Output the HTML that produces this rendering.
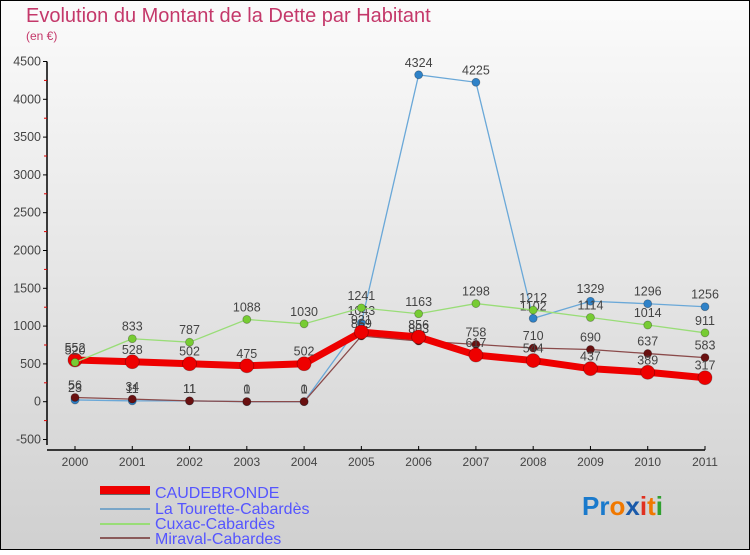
<!DOCTYPE html>
<html><head><meta charset="utf-8"><style>
body{margin:0;width:750px;height:550px;overflow:hidden;font-family:"Liberation Sans",sans-serif}
</style></head><body>
<svg width="750" height="550" xmlns="http://www.w3.org/2000/svg" id="chart">
<defs><linearGradient id="bg" x1="0" y1="0" x2="0" y2="1"><stop offset="0" stop-color="#fbfbfb"/><stop offset="1" stop-color="#d0d0d0"/></linearGradient></defs>
<rect x="0.5" y="0.5" width="749" height="549" fill="url(#bg)" stroke="#000"/>
<text x="26" y="22" font-size="20" fill="#c4386a">Evolution du Montant de la Dette par Habitant</text>
<text x="26" y="40" font-size="12" fill="#c4386a">(en €)</text>
<g id="axes"></g><g id="series"></g>
<g font-size="16" fill="#5555ff">
<rect x="100" y="487" width="50" height="8" fill="#666"/><rect x="100" y="486" width="50" height="8" fill="#e00"/>
<text x="155" y="498">CAUDEBRONDE</text>
<line x1="100" y1="509" x2="150" y2="509" stroke="#7aa6c8" stroke-width="2"/><text x="155" y="514">La Tourette-Cabardès</text>
<line x1="100" y1="524" x2="150" y2="524" stroke="#99dd77" stroke-width="2"/><text x="155" y="529">Cuxac-Cabardès</text>
<line x1="100" y1="538" x2="150" y2="538" stroke="#8a5a5a" stroke-width="2"/><text x="155" y="544">Miraval-Cabardes</text>
</g>
<text x="582" y="515" font-size="26" font-weight="bold"><tspan fill="#1a7acc">Pr</tspan><tspan fill="#f07800">o</tspan><tspan fill="#1a5aaa">x</tspan><tspan fill="#e03020">i</tspan><tspan fill="#f07800">t</tspan><tspan fill="#30a030">i</tspan></text>
</svg>
<script>
const years=[2000,2001,2002,2003,2004,2005,2006,2007,2008,2009,2010,2011];
const yTicks=[-500,0,500,1000,1500,2000,2500,3000,3500,4000,4500];
const caudebronde=[552,528,502,475,502,921,856,617,544,437,389,317];
const tourette=[23,11,11,0,0,1043,4324,4225,1102,1329,1296,1256];
const cuxac=[520,833,787,1088,1030,1241,1163,1298,1212,1114,1014,911];
const miraval=[56,34,11,1,1,869,803,758,710,690,637,583];
const NS="http://www.w3.org/2000/svg";
const X=i=>75+i*(705-75)/11;
const Y=v=>401.7-v*(340.2/4500);
function mk(tag,attrs,parent){const e=document.createElementNS(NS,tag);for(const k in attrs)e.setAttribute(k,attrs[k]);parent.appendChild(e);return e;}
const ax=document.getElementById('axes');
const ya=mk('line',{x1:47,y1:Y(4500),x2:47,y2:445,stroke:'#000','stroke-width':1.5},ax);


yTicks.forEach((t,i)=>{
  mk('line',{x1:43,y1:Y(t),x2:47,y2:Y(t),stroke:'#000'},ax);
  if(i<yTicks.length-1)mk('line',{x1:44,y1:Y(t+250),x2:47,y2:Y(t+250),stroke:'#d00'},ax);
  const tx=mk('text',{x:41,y:Y(t)+4,'font-size':12.5,fill:'#444','text-anchor':'end'},ax);
  tx.textContent=t;
  
  
});
const xa=mk('line',{x1:47,y1:450,x2:705,y2:450,stroke:'#000','stroke-width':1.5},ax);


years.forEach((y,i)=>{
  mk('line',{x1:X(i),y1:446,x2:X(i),y2:450,stroke:'#000'},ax);
  const tx=mk('text',{x:X(i),y:466,'font-size':12,fill:'#444','text-anchor':'middle'},ax);
  tx.textContent=y;
  
  
});
const sg=document.getElementById('series');
function series(name,vals,color,w,r,dot){
  const g=mk('g',{},sg);
  
  
  mk('polyline',{points:vals.map((v,i)=>X(i)+','+Y(v)).join(' '),fill:'none',stroke:color,'stroke-width':w},g);
  vals.forEach((v,i)=>{
    const c=mk('circle',{cx:X(i),cy:Y(v),r:r,fill:dot,stroke:'rgba(0,0,0,0.3)','stroke-width':0.8},g);
    
    
    const t=mk('text',{x:X(i),y:Y(v)-8,'font-size':12.5,fill:'#444','text-anchor':'middle'},g);
    t.textContent=v;
    
    
  });
}
series('tourette-series',tourette,'#6aa8d8',1.3,4,'#2f82c8');
series('miraval-series',miraval,'#8a4a4a',1.3,4,'#6a1010');
series('caudebronde-series',caudebronde,'#ee0000',7,7,'#ee0000');
series('cuxac-series',cuxac,'#99dd77',1.3,4,'#77cc33');
</script>
</body></html>
